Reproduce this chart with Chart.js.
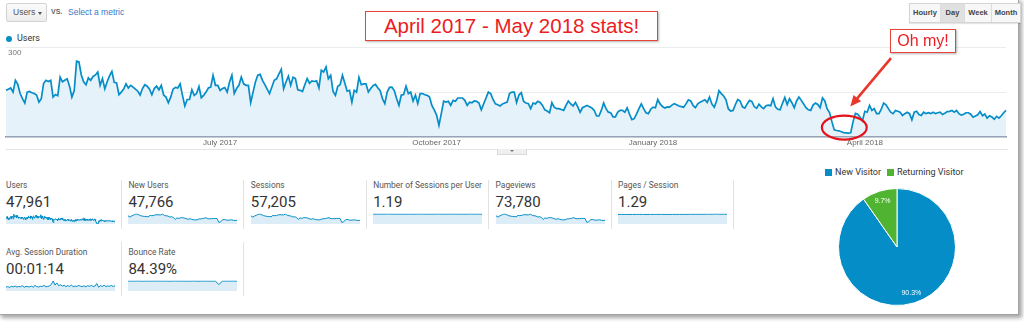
<!DOCTYPE html>
<html>
<head>
<meta charset="utf-8">
<script src="https://cdn.jsdelivr.net/npm/chart.js@4.4.0/dist/chart.umd.min.js"></script>
<style>
    body { margin: 0; width: 1024px; height: 322px; background: #fff; position: relative; overflow: hidden; font-family: Roboto, Arial, sans-serif; }
    .abs { position: absolute; }
    #frame { left: -2px; top: -2px; width: 1021px; height: 317px; box-sizing: border-box; border: 1px solid #a3a3a3; box-shadow: 3px 3px 4px rgba(0, 0, 0, 0.35); }
    #metricSel { left: 6px; top: 3px; width: 41px; height: 19px; box-sizing: border-box; border: 1px solid #d2d2d2; border-radius: 2px; background: linear-gradient(#fbfbfb, #ededed); font: 8.5px "Liberation Sans", Arial, sans-serif; color: #555; line-height: 17px; padding-left: 6px; }
    #metricSel::after { content: ""; position: absolute; left: 31px; top: 8px; border-left: 2.5px solid transparent; border-right: 2.5px solid transparent; border-top: 3px solid #555; }
    #vs { left: 51px; top: 8px; font: bold 7px "Liberation Sans", Arial, sans-serif; color: #666; }
    #selMetric { left: 68px; top: 7px; font: 8.5px "Liberation Sans", Arial, sans-serif; color: #3579c8; }
    #periods { left: 909px; top: 3px; height: 20px; display: flex; border: 1px solid #d4d4d4; box-sizing: border-box; box-shadow: 0 1px 1px rgba(0, 0, 0, 0.1); }
    #periods div { font: bold 7.5px "Liberation Sans", Arial, sans-serif; color: #444; line-height: 18px; text-align: center; background: #f7f7f7; border-right: 1px solid #dcdcdc; }
    #periods div:last-child { border-right: none; }
    #periods .on { background: #e0e0e0; }
    .redbox { background: #fff; border: 1px solid #e8443a; box-shadow: 1px 1px 2px rgba(0, 0, 0, 0.3); color: #ec1c24; text-align: center; font-family: "Liberation Sans", Arial, sans-serif; }
    #title { left: 365px; top: 11px; width: 293px; height: 30px; box-sizing: border-box; font-size: 20.5px; line-height: 28px; }
    #ohmy { left: 890px; top: 29px; width: 66px; height: 24px; box-sizing: border-box; font-size: 16px; line-height: 22px; z-index: 3; }
    #legendDot { left: 6px; top: 36px; width: 6px; height: 6px; border-radius: 50%; background: #058dc7; }
    #legendTxt { left: 17px; top: 33px; font: 9px Roboto, Arial, sans-serif; color: #333; line-height: 11px; }
    #main { left: 0; top: 44px; z-index: 2; }
    #under { left: 6px; top: 149px; width: 1002px; height: 1px; background: #e4e4e4; }
    #tab { left: 497px; top: 149px; width: 30px; height: 6px; box-sizing: border-box; background: #efefef; border: 1px solid #dadada; border-top: none; }
    #tab::after { content: ""; position: absolute; left: 12px; top: 1px; border-left: 2px solid transparent; border-right: 2px solid transparent; border-top: 2px solid #777; }
    .lbl { font: 8.4px Roboto, Arial, sans-serif; color: #555; line-height: 10px; white-space: nowrap; }
    .num { font: 15px Roboto, Arial, sans-serif; color: #333; line-height: 16px; white-space: nowrap; }
    .sep { width: 1px; background: #e2e2e2; }
    .pieKey { font: 9px Roboto, Arial, sans-serif; color: #333; line-height: 10px; white-space: nowrap; }
    .pieKey i { display: inline-block; width: 7px; height: 7px; margin-right: 3px; vertical-align: -0.5px; }
</style>
</head>
<body>
<div id="frame" class="abs"></div>

<div id="metricSel" class="abs">Users</div>
<div id="vs" class="abs">VS.</div>
<div id="selMetric" class="abs">Select a metric</div>
<div id="periods" class="abs">
    <div style="width:30px">Hourly</div>
    <div class="on" style="width:23px">Day</div>
    <div style="width:26px">Week</div>
    <div style="width:28px">Month</div>
</div>
<div id="title" class="abs redbox">April 2017 - May 2018 stats!</div>
<div id="ohmy" class="abs redbox">Oh my!</div>
<div id="legendDot" class="abs"></div>
<div id="legendTxt" class="abs">Users</div>

<canvas id="main" class="abs" width="1012" height="106"></canvas>
<div id="under" class="abs"></div>
<div id="tab" class="abs"></div>

<div id="metrics"></div>

<div class="abs pieKey" style="left:825px; top:167px"><i style="background:#058dc7"></i>New Visitor</div>
<div class="abs pieKey" style="left:887px; top:167px"><i style="background:#50b432"></i>Returning Visitor</div>
<canvas id="pie" class="abs" width="118" height="118" style="left:838px; top:188px"></canvas>

<script>
// daily users, 1 Apr 2017 - 31 May 2018
const startDate = "2017-04-01";
const users = [
    156, 160, 164, 150, 190, 176, 145, 128, 113, 150,
    152, 148, 145, 140, 116, 128, 180, 190, 186, 190,
    133, 142, 138, 201, 185, 190, 195, 170, 133, 155,
    255, 252, 208, 185, 175, 198, 190, 203, 208, 218,
    173, 196, 161, 185, 205, 220, 183, 181, 141, 150,
    160, 178, 164, 173, 167, 160, 153, 140, 162, 175,
    170, 160, 141, 162, 170, 158, 173, 140, 133, 114,
    133, 160, 166, 164, 178, 139, 103, 125, 125, 158,
    139, 145, 169, 131, 139, 150, 164, 167, 207, 173,
    173, 156, 162, 165, 150, 184, 207, 145, 162, 173,
    201, 178, 173, 173, 114, 150, 184,
    207, 210, 190, 175, 160, 145, 167, 190, 195, 212,
    227, 161, 184, 204, 173, 200, 196, 158, 156, 152,
    175, 196, 180, 188, 186, 188, 164, 224, 218, 235,
    195, 207, 152, 139, 170, 175, 207, 180, 153, 156,
    116, 156, 150, 200, 175, 178, 178, 150, 162, 172,
    176, 165, 155, 128, 111, 150, 166, 167, 155, 128,
    105, 140, 142, 170, 145, 150, 120, 140, 111, 145,
    145, 141, 139, 133, 105, 90, 72, 37, 77, 119,
    116, 119, 105, 122, 119, 130, 130, 130, 122, 105,
    116, 114, 120, 119, 113, 90, 110, 130, 150, 145,
    125, 110, 107, 103, 110, 113,
    116, 145, 150, 150, 115, 140, 148, 118, 113, 111,
    94, 113, 110, 119, 115, 105, 90, 86, 80, 114,
    99, 94, 94, 91, 88, 105, 120, 110, 103, 115,
    100, 82, 97, 101, 105, 100, 96, 88, 69, 69,
    88, 113, 94, 82, 80, 66, 66, 82, 88, 88,
    82, 97, 75, 57, 60, 76, 94, 110, 94, 80,
    77, 92, 99, 97, 125, 110, 101, 96, 100, 99,
    106, 111, 107, 103, 101, 99, 110, 124, 120, 105,
    97, 110, 116, 120, 124, 115, 133, 110, 99, 120,
    155, 145, 137, 124, 93, 86, 88, 108, 125, 120,
    100, 96, 110, 122,
    118, 101, 95, 109, 100, 94, 104, 106, 104, 128,
    100, 92, 90, 112, 132, 108, 128, 114, 97, 120,
    133, 122, 110, 97, 90, 88, 106, 113, 108, 97,
    130, 120, 93, 81, 50, 22, 20, 19, 16, 13,
    12, 11, 12, 50, 78, 75, 65, 53, 85, 82,
    105, 88, 94, 77, 77, 92, 113, 107, 94, 82,
    77, 88, 85, 82, 71, 77, 82, 77, 56, 82,
    85, 74, 71, 82, 77, 80, 77, 82, 77, 80,
    82, 74, 78, 84, 85, 88, 82, 88, 77, 72,
    75, 80, 80, 75, 65, 69, 73, 84, 70, 76,
    62, 70, 66, 58, 68, 62, 70, 80, 88
];

const monthTickDates = ["2017-07-01", "2017-10-01", "2018-01-01", "2018-04-01"];
const monthTickLabels = ["July 2017", "October 2017", "January 2018", "April 2018"];
const yTicks = [0, 150, 300];
const dipFrom = "2018-03-18";
const dipTo = "2018-03-26";

// sparklines (weekly where the daily detail is too small to read)
const newUsersWeekly = [161, 138, 158, 172, 193, 196, 180, 163, 155, 149, 147, 140, 166, 165, 166, 180, 183, 180, 179, 197, 167, 163, 156, 138, 142, 129, 89, 121, 109, 123, 125, 118, 104, 93, 104, 93, 84, 82, 81, 99, 101, 106, 116, 123, 101, 106, 102, 110, 107, 108, 31, 42, 82, 91, 79, 74, 78, 82, 73, 71, 70];
const sessionsWeekly = [192, 165, 190, 206, 231, 235, 216, 196, 187, 178, 177, 169, 200, 198, 199, 216, 220, 216, 215, 236, 201, 196, 188, 166, 171, 156, 107, 146, 132, 149, 151, 143, 125, 112, 125, 112, 101, 99, 98, 119, 123, 129, 140, 149, 123, 129, 124, 133, 130, 131, 38, 51, 99, 109, 95, 89, 94, 99, 88, 86, 84];
const pageviewsWeekly = [250, 214, 246, 268, 300, 305, 280, 254, 242, 231, 229, 219, 259, 257, 259, 280, 285, 280, 279, 306, 260, 254, 243, 216, 222, 202, 139, 189, 171, 193, 196, 185, 162, 145, 162, 145, 131, 128, 126, 154, 159, 167, 182, 193, 159, 167, 161, 173, 168, 169, 49, 66, 128, 142, 123, 116, 122, 128, 114, 111, 109];
const sessionsPerUser = [1.18, 1.19, 1.18, 1.19, 1.2, 1.19, 1.18, 1.19, 1.18, 1.19, 1.19, 1.18, 1.19, 1.2, 1.19, 1.18, 1.19, 1.19, 1.2, 1.19, 1.18, 1.19, 1.2, 1.19, 1.19, 1.18, 1.19, 1.2, 1.19, 1.19, 1.18];
const pagesPerSession = [1.27, 1.28, 1.27, 1.28, 1.27, 1.28, 1.29, 1.28, 1.27, 1.28, 1.28, 1.29, 1.28, 1.27, 1.28, 1.29, 1.28, 1.29, 1.28, 1.29, 1.3, 1.29, 1.3, 1.29, 1.3, 1.31, 1.3, 1.33, 1.3, 1.31, 1.3];
const bounceRate = [85, 84, 85, 85, 84, 85, 84, 85, 85, 84, 85, 84, 84, 85, 84, 85, 84, 84, 85, 84, 84, 85, 84, 84, 85, 55, 84, 85, 84, 85, 84];
const avgDuration = [62, 70, 58, 75, 66, 80, 64, 72, 68, 85, 60, 74, 70, 66, 78, 62, 88, 70, 64, 76, 72, 90, 68, 74, 80, 110, 160, 95, 130, 85, 100, 78, 92, 70, 86, 74, 95, 68, 80, 72, 90, 76, 70, 84, 66, 88, 74, 92, 70, 80, 120, 60, 86, 72, 94, 70, 82, 76, 88, 72, 84];

const metricNames = ["Users", "New Users", "Sessions", "Number of Sessions per User", "Pageviews", "Pages / Session", "Avg. Session Duration", "Bounce Rate"];
const metricValues = ["47,961", "47,766", "57,205", "1.19", "73,780", "1.29", "00:01:14", "84.39%"];
const metricSparks = [users, newUsersWeekly, sessionsWeekly, sessionsPerUser, pageviewsWeekly, pagesPerSession, avgDuration, bounceRate];

const visitorTypes = ["New Visitor", "Returning Visitor"];
const visitorShare = [90.3, 9.7];

const BLUE = "#058dc7";
const GREEN = "#50b432";
const RED = "#e8372c";
const PLOT_TOP = 47.7, PLOT_BOTTOM = 136.3;

Chart.defaults.font.family = '"Liberation Sans", Arial, sans-serif';

const days = users.map((_, i) => {
    const d = new Date(startDate + "T00:00:00Z");
    d.setUTCDate(d.getUTCDate() + i);
    return d.toISOString().slice(0, 10);
});

let mainTop = 44;

const ohMyPlugin = {
    id: "ohMy",
    afterDraw(chart) {
        const {ctx, scales: {x, y}} = chart;
        const x0 = x.getPixelForValue(days.indexOf(dipFrom));
        const x1 = x.getPixelForValue(days.indexOf(dipTo));
        const cx = (x0 + x1) / 2 + 3, rx = (x1 - x0) / 2 + 13;
        const cy = y.getPixelForValue(30), ry = 12;

        ctx.save();
        ctx.strokeStyle = "#e4121b";
        ctx.lineWidth = 2.2;
        ctx.beginPath();
        ctx.ellipse(cx, cy, rx, ry, 0, 0, Math.PI * 2);
        ctx.stroke();

        // arrow from the "Oh my!" note to the circle
        const sx = 891, sy = 58 - mainTop;
        const tx = cx + 6, ty = cy - ry - 9;
        const ang = Math.atan2(ty - sy, tx - sx);
        const head = 11;
        ctx.strokeStyle = RED;
        ctx.fillStyle = RED;
        ctx.lineWidth = 2.6;
        ctx.beginPath();
        ctx.moveTo(sx, sy);
        ctx.lineTo(tx - Math.cos(ang) * head * 0.8, ty - Math.sin(ang) * head * 0.8);
        ctx.stroke();
        ctx.beginPath();
        ctx.moveTo(tx, ty);
        ctx.lineTo(tx - Math.cos(ang) * head + Math.sin(ang) * 5, ty - Math.sin(ang) * head - Math.cos(ang) * 5);
        ctx.lineTo(tx - Math.cos(ang) * head - Math.sin(ang) * 5, ty - Math.sin(ang) * head + Math.cos(ang) * 5);
        ctx.closePath();
        ctx.fill();
        ctx.restore();
    }
};

const mainCanvas = document.getElementById("main");
const mainChart = new Chart(mainCanvas, {
    type: "line",
    data: {
        labels: days,
        datasets: [{
            label: "Users",
            data: users,
            borderColor: BLUE,
            borderWidth: 1.7,
            backgroundColor: "#e6f2fa",
            fill: "origin",
            pointRadius: 0,
            tension: 0
        }]
    },
    options: {
        responsive: false,
        maintainAspectRatio: false,
        animation: false,
        events: [],
        layout: {padding: {left: 6, right: 6, top: 4, bottom: 0}},
        plugins: {legend: {display: false}, tooltip: {enabled: false}},
        scales: {
            x: {
                grid: {display: false, drawTicks: false},
                border: {display: true, color: "#8a9aab", width: 1.5},
                ticks: {
                    autoSkip: false,
                    maxRotation: 0,
                    padding: 2,
                    font: {size: 8},
                    color: "#666",
                    callback: (v, i) => {
                        const k = monthTickDates.indexOf(days[i]);
                        return k >= 0 ? monthTickLabels[k] : "";
                    }
                }
            },
            y: {
                min: 0,
                max: 300,
                afterFit: s => { s.width = 0; },
                afterBuildTicks: s => { s.ticks = yTicks.map(v => ({value: v})); },
                grid: {color: "#ececec", drawTicks: false},
                border: {display: false},
                ticks: {
                    mirror: true,
                    padding: 2,
                    labelOffset: 5,
                    font: {size: 8},
                    color: "#777",
                    callback: v => v === 0 ? "" : v
                }
            }
        }
    },
    plugins: [ohMyPlugin]
});

// line the plot box up with the screenshot's
const area = mainChart.chartArea;
const dh = Math.round((PLOT_BOTTOM - PLOT_TOP) - (area.bottom - area.top));
if (dh) mainChart.resize(1012, mainCanvas.height + dh);
mainTop = PLOT_TOP - mainChart.chartArea.top;
mainCanvas.style.top = mainTop + "px";
mainChart.draw();

// metric tiles
const colX = [6, 128.4, 250.8, 373.2, 495.6, 618];
const rowY = [180, 246.7];
const metricsBox = document.getElementById("metrics");

metricNames.forEach((name, i) => {
    const left = colX[i % 6];
    const top = rowY[Math.floor(i / 6)];
    metricsBox.insertAdjacentHTML("beforeend",
        `<div class="abs lbl" style="left:${left}px; top:${top}px">${name}</div>` +
        `<div class="abs num" style="left:${left}px; top:${top + 14}px">${metricValues[i]}</div>` +
        `<canvas id="spark${i}" class="abs" width="109" height="11" style="left:${left}px; top:${top + 33}px"></canvas>`);
});

[121, 243.4, 365.8, 488.2, 610.6, 733].forEach(x => {
    metricsBox.insertAdjacentHTML("beforeend", `<div class="abs sep" style="left:${x}px; top:180px; height:49px"></div>`);
});
[121, 243.4].forEach(x => {
    metricsBox.insertAdjacentHTML("beforeend", `<div class="abs sep" style="left:${x}px; top:242px; height:54px"></div>`);
});

metricSparks.forEach((data, i) => {
    new Chart(document.getElementById("spark" + i), {
        type: "line",
        data: {
            labels: data.map((_, k) => k),
            datasets: [{
                data,
                borderColor: BLUE,
                borderWidth: 1,
                backgroundColor: "#dcedf8",
                fill: "origin",
                pointRadius: 0,
                tension: 0
            }]
        },
        options: {
            responsive: false,
            animation: false,
            events: [],
            layout: {padding: {top: 1}},
            plugins: {legend: {display: false}, tooltip: {enabled: false}},
            scales: {
                x: {display: false},
                y: {display: false, min: 0, bounds: "data", grace: 0}
            }
        }
    });
});

// visitor pie
const pieLabels = {
    id: "pieLabels",
    afterDatasetsDraw(chart) {
        const {ctx} = chart;
        ctx.save();
        ctx.fillStyle = "#fff";
        ctx.font = '7px "Liberation Sans", Arial, sans-serif';
        ctx.textAlign = "center";
        ctx.textBaseline = "middle";
        chart.getDatasetMeta(0).data.forEach((arc, i) => {
            const {x, y, startAngle, endAngle, outerRadius} = arc.getProps(["x", "y", "startAngle", "endAngle", "outerRadius"]);
            const mid = (startAngle + endAngle) / 2;
            ctx.fillText(visitorShare[i] + "%", x + Math.cos(mid) * outerRadius * 0.82, y + Math.sin(mid) * outerRadius * 0.82);
        });
        ctx.restore();
    }
};

new Chart(document.getElementById("pie"), {
    type: "pie",
    data: {
        labels: visitorTypes,
        datasets: [{
            data: visitorShare,
            backgroundColor: [BLUE, GREEN],
            borderColor: "#fff",
            borderWidth: 1
        }]
    },
    options: {
        responsive: false,
        animation: false,
        events: [],
        plugins: {legend: {display: false}, tooltip: {enabled: false}}
    },
    plugins: [pieLabels]
});
</script>
</body>
</html>
